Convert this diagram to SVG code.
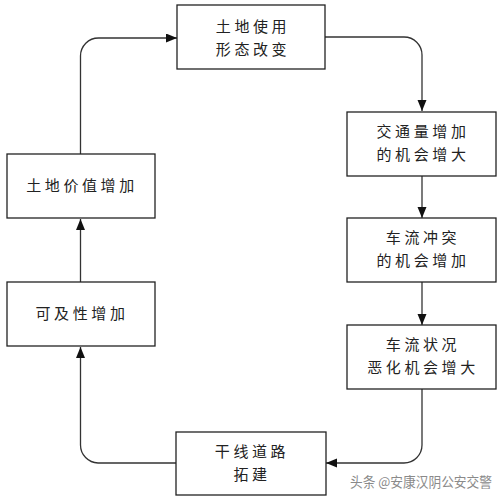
<svg xmlns="http://www.w3.org/2000/svg" width="504" height="500" viewBox="0 0 504 500">
<defs>
<style>
.box{fill:#fff;stroke:#222;stroke-width:1.3}
.t{font-family:"Noto Sans CJK SC","Noto Sans CJK JP",sans-serif;font-size:15px;fill:#222;text-anchor:middle;letter-spacing:3.6px}
.c{fill:none;stroke:#333;stroke-width:1.3;marker-end:url(#ah)}
.wm{font-family:"Noto Sans CJK SC",sans-serif;font-size:13.5px;fill:#8a8a8a}
</style>
<marker id="ah" markerUnits="userSpaceOnUse" markerWidth="12" markerHeight="10" refX="11" refY="4.5" orient="auto">
<path d="M0,0 L11,4.5 L0,9 z" fill="#111"/>
</marker>
</defs>
<rect width="504" height="500" fill="#fff"/>
<g id="connectors">
<path class="c" d="M325,37 H404 A18,18 0 0 1 422,55 V111"/>
<path class="c" d="M422,176 V218"/>
<path class="c" d="M422,282 V325"/>
<path class="c" d="M422,389 V445 A18,18 0 0 1 404,463 H326"/>
<path class="c" d="M176,463 H98 A18,18 0 0 1 80.5,445 V347"/>
<path class="c" d="M80.5,282 V219"/>
<path class="c" d="M80.5,154 V56 A18,18 0 0 1 98.5,38 H177"/>
</g>
<g id="n1"><rect class="box" x="177" y="5" width="148" height="64"/>
<text class="t" x="253" y="32">土地使用</text><text class="t" x="253" y="55">形态改变</text></g>
<g id="n2"><rect class="box" x="347" y="112" width="149" height="64"/>
<text class="t" x="423" y="137">交通量增加</text><text class="t" x="423" y="160">的机会增大</text></g>
<g id="n3"><rect class="box" x="347" y="218" width="149" height="64"/>
<text class="t" x="423" y="243">车流冲突</text><text class="t" x="423" y="266">的机会增加</text></g>
<g id="n4"><rect class="box" x="347" y="325" width="149" height="64"/>
<text class="t" x="423" y="350">车流状况</text><text class="t" x="423" y="373">恶化机会增大</text></g>
<g id="n5"><rect class="box" x="176" y="432" width="150" height="63"/>
<text class="t" x="252" y="457">干线道路</text><text class="t" x="252" y="480">拓建</text></g>
<g id="n6"><rect class="box" x="7" y="282" width="148" height="64"/>
<text class="t" x="82" y="319">可及性增加</text></g>
<g id="n7"><rect class="box" x="7" y="154" width="148" height="64"/>
<text class="t" x="82" y="191">土地价值增加</text></g>
<text class="wm" x="350" y="487" textLength="142" lengthAdjust="spacingAndGlyphs">头条 @安康汉阴公安交警</text>
</svg>
